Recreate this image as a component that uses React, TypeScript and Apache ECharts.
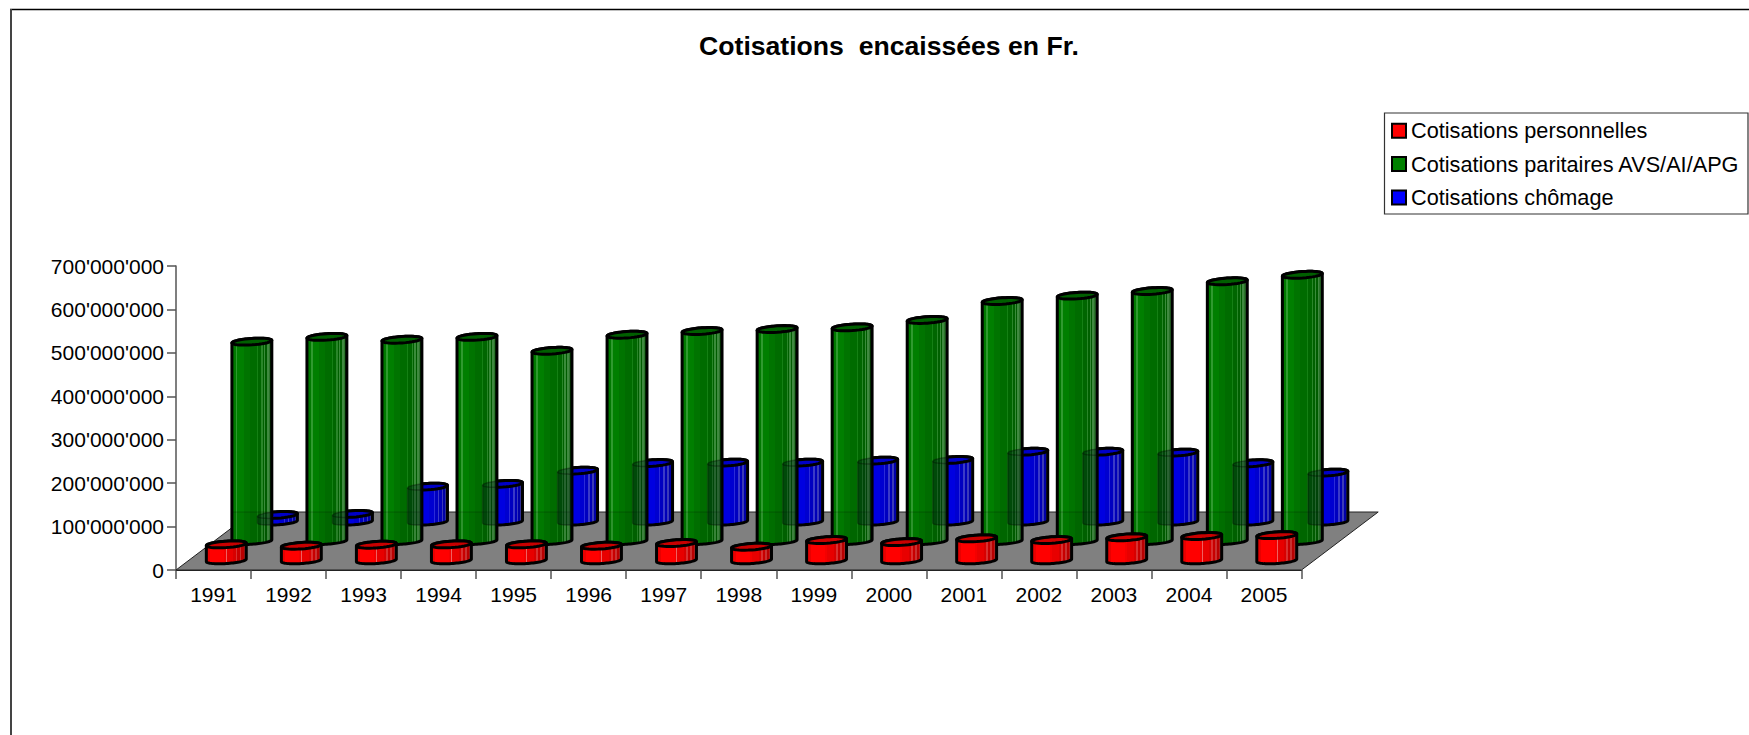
import React, { useEffect, useRef } from "react";
import * as echarts from "echarts";

const years = ["1991","1992","1993","1994","1995","1996","1997","1998","1999","2000","2001","2002","2003","2004","2005"];
const personnelles = [36.8e6,33.6e6,36e6,36.8e6,36.8e6,33.6e6,39.8e6,31.3e6,46.7e6,42e6,50.6e6,46.7e6,53e6,56e6,58e6];
const paritaires = [459e6,470e6,463.5e6,470e6,438e6,475e6,483.5e6,488e6,492e6,509e6,552.6e6,565e6,575.6e6,598e6,613e6];
const chomage = [15.4e6,17.7e6,80.6e6,87e6,117.4e6,135e6,136e6,136e6,140.5e6,142e6,161e6,161e6,159e6,134.5e6,113e6];

const NAME_P = "Cotisations personnelles";
const NAME_A = "Cotisations paritaires AVS/AI/APG";
const NAME_C = "Cotisations chômage";
const FONT = "'Liberation Sans', Arial, sans-serif";

const DEPTH_X = 76.7;
const DEPTH_Y = 58;
const RX = 20;
const RY = 3.2;
const PHI = (-3.8 * Math.PI) / 180;

function stripes(stops: [number, string][]) {
  const colorStops: { offset: number; color: string }[] = [];
  stops.forEach(([o, c], i) => {
    const next = i + 1 < stops.length ? stops[i + 1][0] : 1;
    colorStops.push({ offset: o, color: c }, { offset: next, color: c });
  });
  return { type: "linear", x: 0, y: 0, x2: 1, y2: 0, colorStops };
}

const greenFill = stripes([
  [0, "#007a00"], [0.1, "#2f9a2f"], [0.14, "#007f00"], [0.3, "#007400"], [0.45, "#006c00"],
  [0.62, "#158015"], [0.65, "#006600"], [0.74, "#2a862a"], [0.77, "#006000"], [0.81, "#3a8c3a"],
  [0.84, "#005c00"], [0.88, "#408a40"], [0.92, "#2a742a"], [0.96, "#004c00"],
]);
const blueFill = stripes([
  [0, "#0000d8"], [0.2, "#0000e8"], [0.27, "#3030f0"], [0.3, "#0000e0"], [0.55, "#0000d0"],
  [0.66, "#2a2ad8"], [0.69, "#0000c0"], [0.76, "#3a3ac8"], [0.8, "#0000b8"], [0.86, "#3a3ab8"],
  [0.9, "#0000a8"], [0.95, "#303098"],
]);
const redFill = stripes([
  [0, "#e80000"], [0.1, "#ff0000"], [0.45, "#f40000"], [0.5, "#f06060"], [0.52, "#e80000"],
  [0.68, "#d80000"], [0.74, "#d83030"], [0.78, "#c80000"], [0.84, "#c83030"], [0.88, "#b80000"],
  [0.94, "#b02020"],
]);

function ellipsePoint(cx: number, cy: number, t: number) {
  return [
    cx + RX * Math.cos(t) * Math.cos(PHI) - RY * Math.sin(t) * Math.sin(PHI),
    cy + RX * Math.cos(t) * Math.sin(PHI) + RY * Math.sin(t) * Math.cos(PHI),
  ];
}
const T0 = Math.atan((-RY / RX) * Math.tan(PHI));

function arc(cx: number, cy: number, from: number, to: number) {
  const pts: number[][] = [];
  const n = 36;
  for (let i = 0; i <= n; i++) pts.push(ellipsePoint(cx, cy, from + ((to - from) * i) / n));
  return pts;
}
function silhouette(cx: number, yBase: number, yTop: number) {
  return [...arc(cx, yBase, T0, T0 + Math.PI), ...arc(cx, yTop, T0 + Math.PI, T0 + 2 * Math.PI)];
}

function project(api: any, cat: number, value: number, f: number) {
  const p = api.coord([cat, value]);
  return [p[0] + DEPTH_X * f, p[1] - DEPTH_Y * f];
}

function cylinderChildren(api: any, cat: number, value: number, f: number, fill: any, cap: string) {
  const base = project(api, cat, 0, f);
  const top = project(api, cat, value, f);
  const line = { stroke: "#000", lineWidth: 3, lineJoin: "round" };
  return [
    { type: "polygon", shape: { points: silhouette(base[0], base[1], top[1]) }, style: { fill, ...line } },
    { type: "polygon", shape: { points: arc(top[0], top[1], 0, 2 * Math.PI) }, style: { fill: cap, ...line } },
  ];
}

function simpleCylinder(f: number, fill: any, cap: string) {
  return (_p: any, api: any) => ({
    type: "group",
    children: cylinderChildren(api, api.value(0), api.value(1), f, fill, cap),
  });
}

function greenCylinder(params: any, api: any) {
  const cat = api.value(0);
  const f = 0.5;
  const children: any[] = cylinderChildren(api, cat, api.value(1), f, greenFill, "#005f00");
  const base = project(api, cat, 0, f);
  const right = base[0] + RX;
  const left = base[0] - RX;
  // what shows through the front cylinder: back edge of the floor and the blue cylinder
  const floorBack = project(api, cat, 0, 1)[1];
  const body = silhouette(base[0], base[1], project(api, cat, api.value(1), f)[1]);
  children.push({
    type: "polygon",
    shape: { points: body.map(([x, y]) => [x, Math.max(y, floorBack)]) },
    style: { fill: "rgba(0,0,0,0.05)" },
  });
  children.push({
    type: "line",
    shape: { x1: left, y1: floorBack, x2: right, y2: floorBack },
    style: { stroke: "rgba(0,0,0,0.22)", lineWidth: 1 },
  });
  const bBase = project(api, cat, 0, 5 / 6);
  const bTop = project(api, cat, chomage[params.dataIndex], 5 / 6);
  const clampX = (pts: number[][]) => pts.map(([x, y]) => [Math.min(x, right), y]);
  children.push({
    type: "polygon",
    shape: { points: clampX(silhouette(bBase[0], bBase[1], bTop[1])) },
    style: { fill: "rgba(0,20,25,0.34)", stroke: "rgba(0,0,0,0.3)", lineWidth: 1.5 },
  });
  children.push({
    type: "polyline",
    shape: { points: clampX(arc(bTop[0], bTop[1], 0, Math.PI)) },
    style: { fill: "none", stroke: "rgba(0,0,0,0.3)", lineWidth: 1.5 },
  });
  return { type: "group", children };
}

function floor(_p: any, api: any) {
  const half = api.size([1, 0])[0] / 2;
  const a = api.coord([0, 0]);
  const b = api.coord([years.length - 1, 0]);
  const x0 = a[0] - half;
  const x1 = b[0] + half;
  const y = a[1];
  return {
    type: "polygon",
    shape: { points: [[x0, y], [x1, y], [x1 + DEPTH_X, y - DEPTH_Y], [x0 + DEPTH_X, y - DEPTH_Y]] },
    style: { fill: "#808080", stroke: "#222", lineWidth: 1 },
  };
}

const toData = (vals: number[]) => vals.map((v, i) => [i, v]);
const fmt = (v: number) => String(v).replace(/\B(?=(\d{3})+(?!\d))/g, "'");

export default function App() {
  const ref = useRef<HTMLDivElement>(null);
  useEffect(() => {
    document.body.style.margin = "0";
    document.body.style.overflow = "hidden";
    const chart = echarts.init(ref.current!, null, { renderer: "svg" });
    const encode = { x: 0, y: 1 };
    chart.setOption({
      animation: false,
      backgroundColor: "#fff",
      textStyle: { fontFamily: FONT },
      title: {
        text: "Cotisations  encaissées en Fr.",
        left: 884,
        top: 27,
        textAlign: "center",
        textStyle: { fontFamily: FONT, fontWeight: "bold", fontSize: 26.6, color: "#000" },
      },
      legend: {
        orient: "vertical",
        left: 1391,
        top: 114,
        padding: 0,
        itemGap: 0,
        itemWidth: 14,
        itemHeight: 14,
        itemStyle: { borderColor: "#000", borderWidth: 2 },
        icon: "rect",
        selectedMode: false,
        data: [NAME_P, NAME_A, NAME_C],
        textStyle: { fontFamily: FONT, fontSize: 21.7, color: "#000", lineHeight: 33.4, padding: [0, 0, 0, 0] },
      },
      grid: { left: 176, top: 266, width: 1125.5, height: 304, containLabel: false },
      xAxis: {
        type: "category",
        data: years,
        boundaryGap: true,
        axisLine: { lineStyle: { color: "#222", width: 1 } },
        axisTick: { show: true, length: 9, lineStyle: { color: "#555", width: 1.5 } },
        axisLabel: { color: "#000", fontFamily: FONT, fontSize: 21, margin: 14, interval: 0 },
        splitLine: { show: false },
      },
      yAxis: {
        type: "value",
        min: 0,
        max: 700000000,
        interval: 100000000,
        axisLine: { show: true, lineStyle: { color: "#555", width: 1.5 } },
        axisTick: { show: true, length: 9, lineStyle: { color: "#555", width: 1.5 } },
        axisLabel: { color: "#000", fontFamily: FONT, fontSize: 21, margin: 12, formatter: fmt },
        splitLine: { show: false },
      },
      series: [
        { type: "custom", name: "Sol", silent: true, z: 1, data: [[0, 0]], encode, renderItem: floor },
        { type: "custom", name: NAME_P, z: 5, itemStyle: { color: "#ff0000" }, data: toData(personnelles), encode, renderItem: simpleCylinder(1 / 6, redFill, "#c80000") },
        { type: "custom", name: NAME_A, z: 4, itemStyle: { color: "#008000" }, data: toData(paritaires), encode, renderItem: greenCylinder },
        { type: "custom", name: NAME_C, z: 3, itemStyle: { color: "#0000ff" }, data: toData(chomage), encode, renderItem: simpleCylinder(5 / 6, blueFill, "#0000c8") },
      ],
      graphic: [
        { type: "line", silent: true, shape: { x1: 10, y1: 9.5, x2: 1749, y2: 9.5 }, style: { stroke: "#000", lineWidth: 1.5 } },
        { type: "line", silent: true, shape: { x1: 11, y1: 9, x2: 11, y2: 735 }, style: { stroke: "#444", lineWidth: 2 } },
        { type: "rect", silent: true, z: -1, shape: { x: 1384.5, y: 113, width: 363.5, height: 101 }, style: { fill: "#fff", stroke: "#333", lineWidth: 1.2 } },
      ],
    });
    return () => chart.dispose();
  }, []);
  return <div ref={ref} style={{ position: "absolute", left: 0, top: 0, width: 1749, height: 735 }} />;
}
